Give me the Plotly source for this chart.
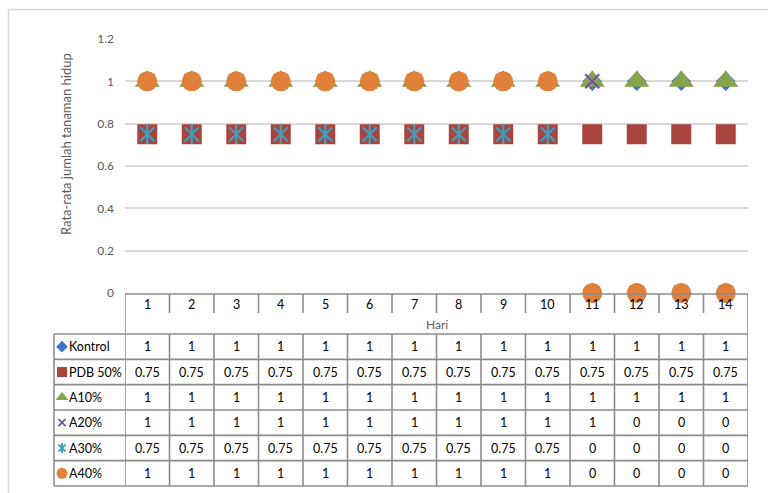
import plotly.graph_objects as go

# ---- data -------------------------------------------------------------
hari = [1, 2, 3, 4, 5, 6, 7, 8, 9, 10, 11, 12, 13, 14]
series_names = ["Kontrol", "PDB 50%", "A10%", "A20%", "A30%", "A40%"]
kontrol = [1, 1, 1, 1, 1, 1, 1, 1, 1, 1, 1, 1, 1, 1]
pdb50 = [0.75, 0.75, 0.75, 0.75, 0.75, 0.75, 0.75, 0.75, 0.75, 0.75, 0.75, 0.75, 0.75, 0.75]
a10 = [1, 1, 1, 1, 1, 1, 1, 1, 1, 1, 1, 1, 1, 1]
a20 = [1, 1, 1, 1, 1, 1, 1, 1, 1, 1, 1, 0, 0, 0]
a30 = [0.75, 0.75, 0.75, 0.75, 0.75, 0.75, 0.75, 0.75, 0.75, 0.75, 0, 0, 0, 0]
a40 = [1, 1, 1, 1, 1, 1, 1, 1, 1, 1, 0, 0, 0, 0]
y_ticks = [0, 0.2, 0.4, 0.6, 0.8, 1, 1.2]
y_tick_labels = ["0", "0.2", "0.4", "0.6", "0.8", "1", "1.2"]
x_title = "Hari"
y_title = "Rata-rata jumlah tanaman hidup"

series_values = [kontrol, pdb50, a10, a20, a30, a40]

# ---- styling ------------------------------------------------------------
W, H = 768, 493
FONT = "Lato"
TICK_GREY = "#595959"
GRID = "#D9D9D9"
TABLE_LINE = "#8C8C8C"

# one marker recipe per series: list of (symbol, size, color, line width)
marker_styles = [
    [("diamond", 15, "#4472C4", 0)],
    [("square", 20, "#A9443F", 0)],
    [("triangle-up", 22, "#84A34A", 0)],
    [("x-thin-open", 14, "#7552A0", 2.2)],
    [("x-thin-open", 14, "#3DA0BE", 2.2), ("line-ns-open", 14, "#3DA0BE", 2.2)],
    [("circle", 20, "#E0803A", 0)],
]
legend_styles = [
    [("diamond", 9, "#4472C4", 0)],
    [("square", 10, "#A9443F", 0)],
    [("triangle-up", 11, "#84A34A", 0)],
    [("x-thin-open", 7, "#7552A0", 1.8)],
    [("x-thin-open", 7, "#3DA0BE", 1.8), ("line-ns-open", 7, "#3DA0BE", 1.8)],
    [("circle", 11, "#E0803A", 0)],
]


def px(x):
    return x / W


def py(y):
    return 1 - y / H


# plot area in pixels
PLOT_L, PLOT_R, PLOT_T, PLOT_B = 125, 748, 39, 293
# data-table geometry in pixels
HDR_TOP, HDR_SPLIT, HDR_BOT = 294, 313, 334
ROW_H = (486 - HDR_BOT) / len(series_names)
LEG_L = 54

fig = go.Figure()

for name, vals, styles in zip(series_names, series_values, marker_styles):
    for k, (sym, size, color, lw) in enumerate(styles):
        fig.add_trace(go.Scatter(
            x=hari, y=vals, mode="markers", name=name, showlegend=False,
            cliponaxis=False,
            marker=dict(symbol=sym, size=size, color=color,
                        line=dict(width=lw, color=color)),
        ))

# legend keys inside the data table (pixel-space overlay axes)
for i, (name, styles) in enumerate(zip(series_names, legend_styles)):
    yc = HDR_BOT + ROW_H * (i + 0.5)
    for sym, size, color, lw in styles:
        fig.add_trace(go.Scatter(
            x=[62], y=[yc], mode="markers", showlegend=False,
            xaxis="x2", yaxis="y2", cliponaxis=False,
            marker=dict(symbol=sym, size=size, color=color,
                        line=dict(width=lw, color=color)),
        ))

shapes = []
# outer chart frame
shapes.append(dict(type="line", xref="paper", yref="paper",
                   x0=px(8), x1=px(W + 5), y0=py(9.5), y1=py(9.5),
                   line=dict(color=GRID, width=1.5)))
shapes.append(dict(type="line", xref="paper", yref="paper",
                   x0=px(8.5), x1=px(8.5), y0=py(9), y1=py(H + 5),
                   line=dict(color=GRID, width=1.5)))

n = len(hari)
lo, hi = hari[0] - 0.5, hari[-1] + 0.5
tl = dict(color=TABLE_LINE, width=1.6)
# header box
shapes.append(dict(type="line", xref="x", yref="paper", x0=lo, x1=hi,
                   y0=py(HDR_TOP), y1=py(HDR_TOP), line=tl))
for xb in [lo, hi]:
    shapes.append(dict(type="line", xref="x", yref="paper", x0=xb, x1=xb,
                       y0=py(HDR_TOP), y1=py(HDR_BOT + ROW_H * len(series_names)), line=tl))
for h in hari[:-1]:
    xb = h + 0.5
    shapes.append(dict(type="line", xref="x", yref="paper", x0=xb, x1=xb,
                       y0=py(HDR_TOP), y1=py(HDR_SPLIT), line=tl))
    shapes.append(dict(type="line", xref="x", yref="paper", x0=xb, x1=xb,
                       y0=py(HDR_BOT), y1=py(HDR_BOT + ROW_H * len(series_names)), line=tl))
# body rows
for r in range(len(series_names) + 1):
    yy = py(HDR_BOT + ROW_H * r)
    shapes.append(dict(type="line", xref="paper", yref="paper", x0=px(LEG_L), x1=px(PLOT_R),
                       y0=yy, y1=yy, line=tl))
shapes.append(dict(type="line", xref="paper", yref="paper", x0=px(LEG_L), x1=px(LEG_L),
                   y0=py(HDR_BOT), y1=py(HDR_BOT + ROW_H * len(series_names)), line=tl))

annotations = []
cell_font = dict(family=FONT, size=12.5, color="#000000")
for h in hari:
    annotations.append(dict(x=h, y=py((HDR_TOP + HDR_SPLIT) / 2 + 0.5), xref="x", yref="paper",
                            text=str(h), showarrow=False, font=cell_font,
                            xanchor="center", yanchor="middle"))
annotations.append(dict(x=(lo + hi) / 2, y=py((HDR_SPLIT + HDR_BOT) / 2 + 0.5), xref="x", yref="paper",
                        text=x_title, showarrow=False,
                        font=dict(family=FONT, size=12, color=TICK_GREY),
                        xanchor="center", yanchor="middle"))
for i, (name, vals) in enumerate(zip(series_names, series_values)):
    yc = py(HDR_BOT + ROW_H * (i + 0.5))
    annotations.append(dict(x=px(67), y=yc, xref="paper", yref="paper", text=name,
                            showarrow=False, font=cell_font, xanchor="left", yanchor="middle"))
    for h, v in zip(hari, vals):
        annotations.append(dict(x=h, y=yc, xref="x", yref="paper", text=f"{v:g}",
                                showarrow=False, font=cell_font,
                                xanchor="center", yanchor="middle"))
annotations.append(dict(x=px(66), y=py(144), xref="paper", yref="paper", text=y_title,
                        textangle=-90, showarrow=False,
                        font=dict(family=FONT, size=13, color=TICK_GREY),
                        xanchor="center", yanchor="middle"))

fig.update_layout(
    width=W, height=H, margin=dict(l=0, r=0, t=0, b=0, pad=0, autoexpand=False),
    paper_bgcolor="white", plot_bgcolor="rgba(0,0,0,0)",
    font=dict(family=FONT),
    xaxis=dict(domain=[px(PLOT_L), px(PLOT_R)], range=[lo, hi], visible=False,
               fixedrange=True, automargin=False),
    yaxis=dict(domain=[py(PLOT_B), py(PLOT_T)], range=[0, 1.2],
               tickvals=y_ticks, ticktext=y_tick_labels,
               showgrid=True, gridcolor=GRID, gridwidth=1.5,
               zeroline=False, showline=False, ticks="", automargin=False,
               ticklabelstandoff=10,
               tickfont=dict(family=FONT, size=12, color=TICK_GREY)),
    xaxis2=dict(domain=[0, 1], range=[0, W], visible=False, anchor="y2", automargin=False),
    yaxis2=dict(domain=[0, 1], range=[H, 0], visible=False, anchor="x2", automargin=False),
    shapes=shapes, annotations=annotations, showlegend=False,
)

fig.write_html("out.html")
